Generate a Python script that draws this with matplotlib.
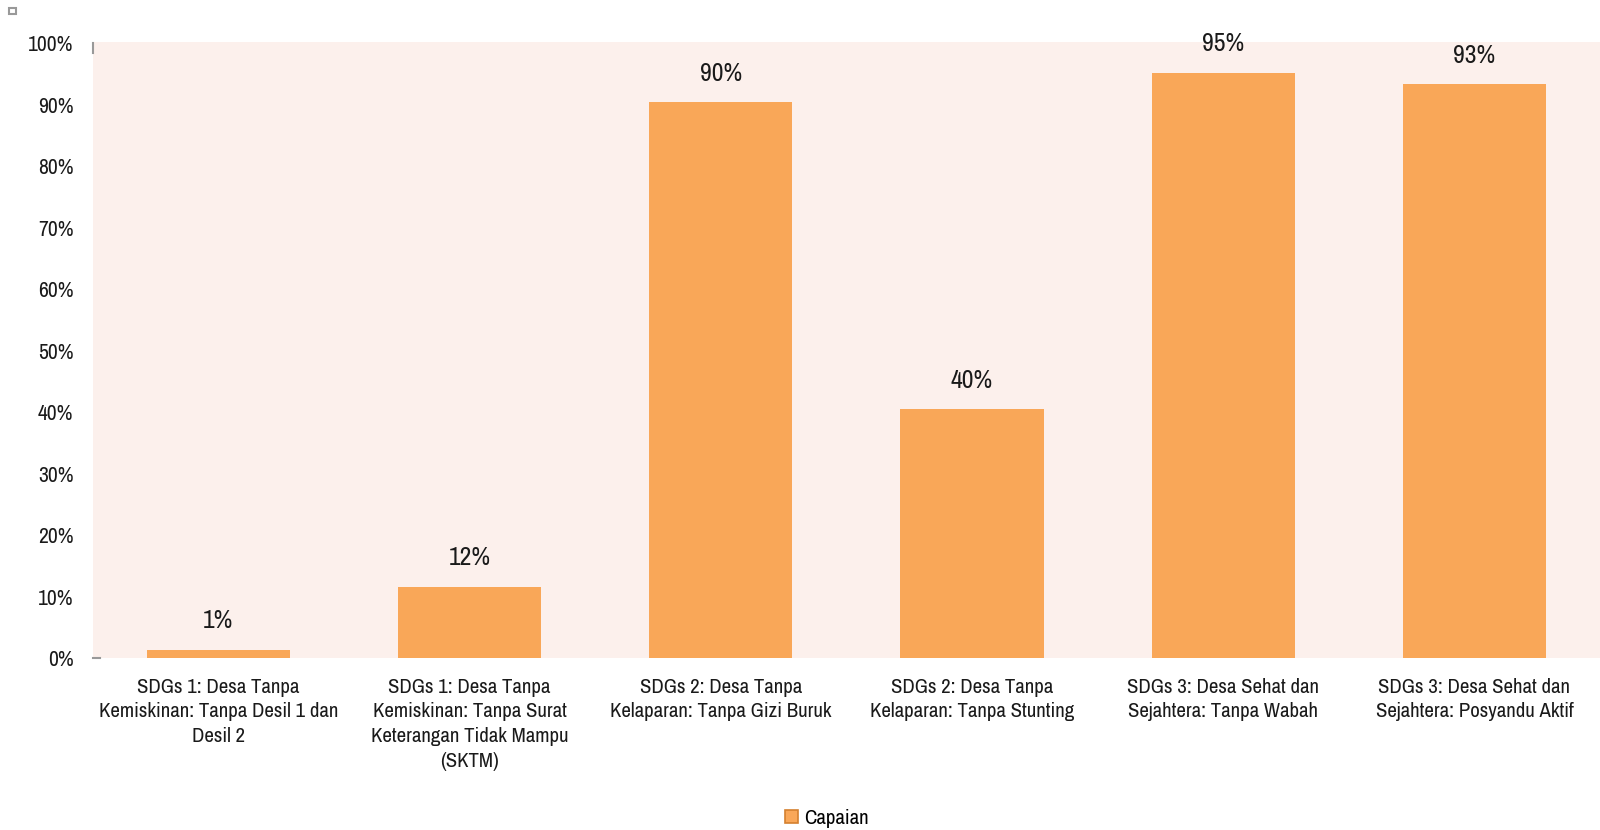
import matplotlib.pyplot as plt
from matplotlib.patches import Rectangle
from matplotlib.ticker import PercentFormatter

# data
categories = [
    "SDGs 1: Desa Tanpa\nKemiskinan: Tanpa Desil 1 dan\nDesil 2",
    "SDGs 1: Desa Tanpa\nKemiskinan: Tanpa Surat\nKeterangan Tidak Mampu\n(SKTM)",
    "SDGs 2: Desa Tanpa\nKelaparan: Tanpa Gizi Buruk",
    "SDGs 2: Desa Tanpa\nKelaparan: Tanpa Stunting",
    "SDGs 3: Desa Sehat dan\nSejahtera: Tanpa Wabah",
    "SDGs 3: Desa Sehat dan\nSejahtera: Posyandu Aktif",
]
capaian = [0.014, 0.116, 0.904, 0.405, 0.952, 0.934]
y_ticks = [0, 0.1, 0.2, 0.3, 0.4, 0.5, 0.6, 0.7, 0.8, 0.9, 1.0]

BAR = "#F9A758"
BG = "#FCF0EC"
TXT = "#1a1a1a"

plt.rcParams["font.family"] = ["Archivo Narrow", "PT Sans Narrow", "DejaVu Sans"]

fig = plt.figure(figsize=(16, 8.3), dpi=100)
ax = fig.add_axes([0.058, 0.207, 0.942, 0.743])
ax.set_facecolor(BG)

x = range(len(categories))
bars = ax.bar(x, capaian, width=0.57, color=BAR, label="Capaian", zorder=2)

for b, v in zip(bars, capaian):
    ax.text(b.get_x() + b.get_width() / 2, v + 0.047, f"{round(v * 100):.0f}%",
            ha="center", va="center", fontsize=18.5, color=TXT, clip_on=False)

ax.set_xlim(-0.5, len(categories) - 0.5)
ax.set_ylim(0, 1.003)
ax.set_yticks(y_ticks)
ax.yaxis.set_major_formatter(PercentFormatter(1.0, decimals=0))
ax.set_xticks(list(x))
ax.set_xticklabels(categories, fontsize=15, color=TXT, linespacing=1.38)

for s in ax.spines.values():
    s.set_visible(False)
ax.tick_params(axis="x", length=0, pad=14)
ax.tick_params(axis="y", length=0, pad=14, labelsize=15.5, labelcolor=TXT)

# small marks at axis ends
ax.plot([-0.5, -0.47], [0, 0], color="#999999", lw=1.5, clip_on=False)
ax.plot([-0.5, -0.5], [0.985, 1.0], color="#999999", lw=1.5, clip_on=False)

leg = ax.legend(loc="center", bbox_to_anchor=(0.487, -0.26), frameon=False,
                fontsize=15, handlelength=0.6, handleheight=0.6, handletextpad=0.3)
for h in leg.legend_handles:
    h.set_edgecolor("#D4802F")
    h.set_linewidth(1.2)

# icon in the top-left corner
fig.patches.append(Rectangle((0.0056, 0.983), 0.0045, 0.0075, transform=fig.transFigure,
                             facecolor="white", edgecolor="#999999", lw=1.5))

fig.savefig("out.png", dpi=100)
